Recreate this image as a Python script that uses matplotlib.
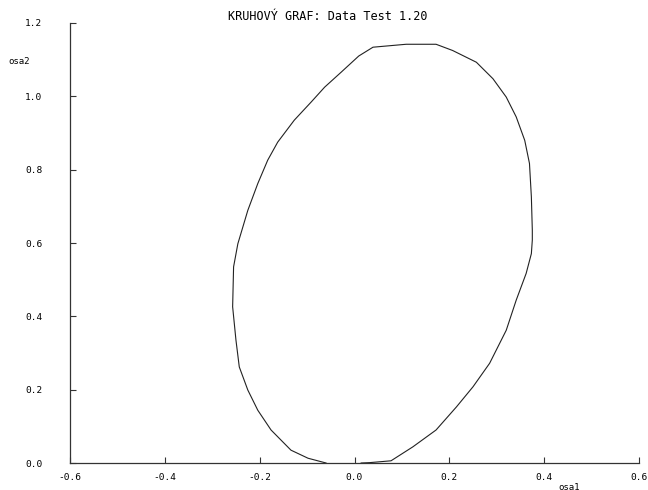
# Kruhovy graf - uzavrena krivka z namerenych bodu
import numpy as np
import matplotlib.pyplot as plt

# Body krivky (osa1, osa2), od pocatku proti smeru hodin
osa1 = [0.014, 0.032, 0.077, 0.123, 0.172, 0.215, 0.250, 0.285, 0.320, 0.341,
        0.362, 0.373, 0.375, 0.375, 0.373, 0.369, 0.359, 0.341, 0.320, 0.292,
        0.257, 0.207, 0.172, 0.109, 0.039, 0.009, -0.028, -0.063, -0.091,
        -0.127, -0.162, -0.183, -0.204, -0.225, -0.246, -0.255, -0.257,
        -0.250, -0.243, -0.225, -0.204, -0.176, -0.134, -0.098, -0.060]
osa2 = [0.000, 0.001, 0.006, 0.044, 0.090, 0.153, 0.208, 0.272, 0.362, 0.444,
        0.517, 0.571, 0.608, 0.635, 0.726, 0.817, 0.880, 0.944, 0.998, 1.048,
        1.093, 1.125, 1.142, 1.142, 1.134, 1.110, 1.066, 1.025, 0.985,
        0.935, 0.875, 0.826, 0.762, 0.689, 0.598, 0.535, 0.426,
        0.335, 0.262, 0.199, 0.144, 0.090, 0.035, 0.013, 0.000]

xticks = [-0.6, -0.4, -0.2, 0.0, 0.2, 0.4, 0.6]
yticks = [0.0, 0.2, 0.4, 0.6, 0.8, 1.0, 1.2]

plt.rcParams['font.family'] = 'DejaVu Sans Mono'
plt.rcParams['axes.unicode_minus'] = False

fig = plt.figure(figsize=(6.48, 4.9), dpi=100)
ax = fig.add_axes([70 / 648, 1 - 463 / 490, 569 / 648, 440 / 490])

# Krivka
ax.plot(osa1, osa2, color='#222222', linewidth=0.8)

ax.set_xlim(-0.6, 0.6)
ax.set_ylim(0.0, 1.2)
ax.set_xticks(xticks)
ax.set_yticks(yticks)
ax.set_xticklabels(["{0:.1f}".format(v) for v in xticks])
ax.set_yticklabels(["{0:.1f}".format(v) for v in yticks])
ax.tick_params(direction='in', length=4, width=0.8, color='#333333', labelsize=6.8)
ax.tick_params(axis='y', pad=20)
ax.tick_params(axis='x', pad=7)

# Jen leva a spodni osa
for s in ['top', 'right']:
    ax.spines[s].set_visible(False)
for s in ['left', 'bottom']:
    ax.spines[s].set_color('#333333')
    ax.spines[s].set_linewidth(0.9)

# Popisky os a nadpis
fig.text(558 / 648, 1 - 487 / 490, "osa1", fontsize=6.5, va='center', ha='left')
fig.text(8 / 648, 1 - 61 / 490, "osa2", fontsize=6.5, va='center', ha='left')
fig.text(328 / 648, 1 - 17 / 490, "KRUHOVÝ GRAF: Data Test 1.20", fontsize=8.5,
         ha='center', va='center')

fig.savefig("out.png", dpi=100)
